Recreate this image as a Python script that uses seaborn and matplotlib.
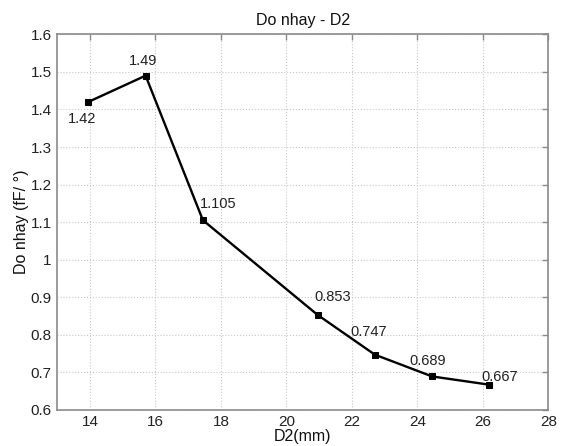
import numpy as np
import pandas as pd
import matplotlib
matplotlib.use("Agg")
import matplotlib.pyplot as plt
import seaborn as sns

# data
d2_mm = [13.95, 15.7, 17.45, 20.95, 22.7, 24.45, 26.2]
sensitivity = [1.42, 1.49, 1.105, 0.853, 0.747, 0.689, 0.667]
point_labels = ["1.42", "1.49", "1.105", "0.853", "0.747", "0.689", "0.667"]
x_ticks = [14, 16, 18, 20, 22, 24, 26, 28]
y_ticks = [0.6, 0.7, 0.8, 0.9, 1.0, 1.1, 1.2, 1.3, 1.4, 1.5, 1.6]
y_tick_labels = ["0.6", "0.7", "0.8", "0.9", "1", "1.1", "1.2", "1.3", "1.4", "1.5", "1.6"]

df = pd.DataFrame({"D2": d2_mm, "S": sensitivity})

sns.set_style("white")
plt.rcParams['font.family'] = ['Liberation Sans', 'DejaVu Sans']

fig = plt.figure(figsize=(5.66, 4.46), dpi=100)
ax = fig.add_axes([0.101, 0.081, 0.868, 0.842])

sns.lineplot(data=df, x="D2", y="S", ax=ax, color="black", linewidth=1.7,
             marker="s", markersize=5, markeredgecolor="black", sort=False)

# label offsets in pixels (dx, dy) -> points
offsets_px = [(-6, -17), (-3, 15), (15, 16), (15.5, 17.5), (-6.5, 23), (-4.7, 15), (10.5, 8)]
for x, y, lab, (dx, dy) in zip(d2_mm, sensitivity, point_labels, offsets_px):
    ax.annotate(lab, (x, y), xytext=(dx * 0.72, dy * 0.72), textcoords="offset points",
                ha="center", va="center", fontsize=10.5, color="#222222")

ax.set_xlim(13, 28)
ax.set_ylim(0.6, 1.6)
ax.set_xticks(x_ticks)
ax.set_yticks(y_ticks)
ax.set_yticklabels(y_tick_labels)

ax.grid(True, linestyle=":", color="#c8c8c8", linewidth=0.8)
for s in ax.spines.values():
    s.set_visible(True)
    s.set_color("#8a8a8a")
    s.set_linewidth(1.2)
ax.tick_params(direction="in", length=4, width=1, color="#8a8a8a",
               top=True, right=True, labelsize=11, labelcolor="#222222", pad=4)

ax.set_title("Do nhay - D2", fontsize=11.5, pad=7, color="#111111")
ax.set_xlabel("D2(mm)", fontsize=11.5, labelpad=0, color="#111111")
ax.set_ylabel("Do nhay (fF/ °)", fontsize=11.5, labelpad=1, color="#111111")

fig.savefig("out.png", dpi=100)
